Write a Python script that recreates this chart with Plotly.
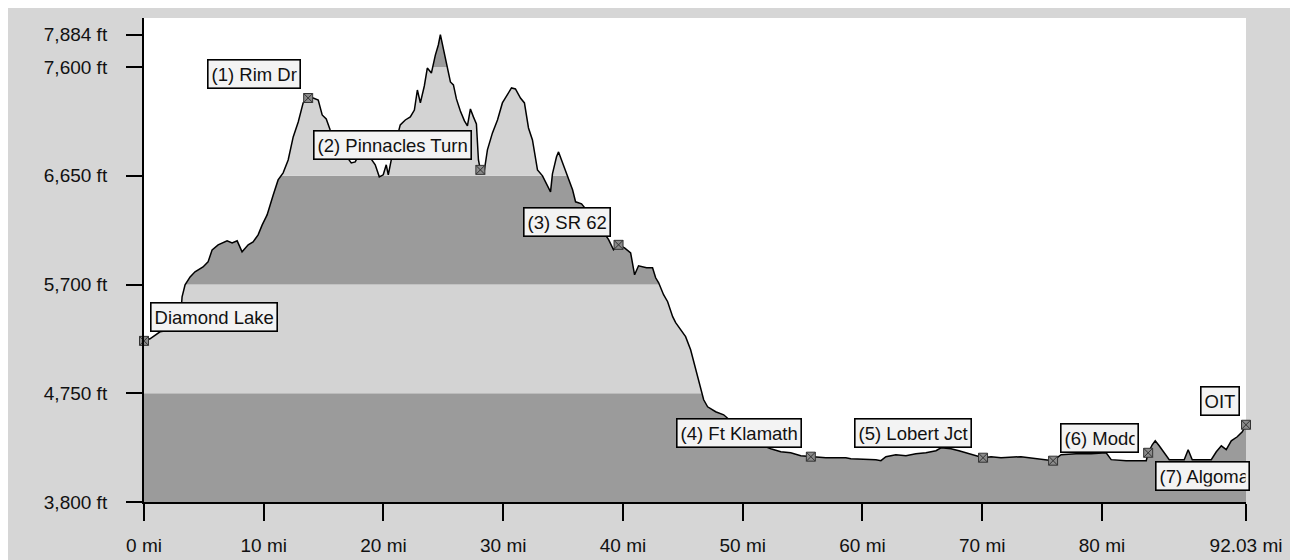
import plotly.graph_objects as go

# ---- data: elevation profile (miles, feet) ----
miles = [0, 0.5, 1.34, 2.34, 3.0, 3.18, 3.43, 3.85, 4.26, 4.93,
         5.35, 5.69, 6.19, 6.61, 6.94, 7.36, 7.78, 8.19, 8.70, 9.11,
         9.53, 9.87, 10.28, 10.79, 11.2, 11.62, 12.04, 12.46, 12.88, 13.29,
         13.71, 14.13, 14.55, 14.88, 15.22, 15.55, 16.05, 16.81, 17.31, 17.64,
         18.06, 18.73, 19.31, 19.65, 19.98, 20.23, 20.4, 20.65, 21.07, 21.4,
         21.82, 22.24, 22.58, 22.83, 23.08, 23.41, 23.66, 24.0, 24.33, 24.58,
         24.75, 25.0, 25.25, 25.59, 25.84, 26.09, 26.42, 26.76, 27.01, 27.26,
         27.51, 27.76, 27.93, 28.09, 28.43, 28.68, 29.1, 29.52, 29.93, 30.35,
         30.69, 31.02, 31.44, 31.77, 32.11, 32.44, 32.86, 33.28, 33.53, 33.95,
         34.11, 34.45, 34.62, 34.95, 35.45, 35.79, 36.04, 36.54, 37.29, 38.13,
         38.8, 39.21, 39.63, 40.13, 40.64, 40.97, 41.3, 41.97, 42.47, 42.73,
         42.98, 43.39, 43.73, 44.15, 44.4, 44.82, 45.23, 45.65, 45.99, 46.32,
         46.57, 46.74, 47.07, 47.74, 48.41, 49.83, 51.5, 52.34, 53.18, 54.01,
         54.85, 55.69, 56.94, 58.61, 59.03, 61.12, 61.54, 61.96, 62.79, 63.63,
         64.46, 65.3, 66.14, 66.56, 67.39, 68.06, 68.65, 69.48, 70.07, 70.74,
         71.57, 73.24, 74.92, 75.92, 76.59, 77.84, 79.1, 80.35, 80.77, 82.02,
         83.7, 83.86, 84.2, 84.45, 84.78, 85.12, 85.62, 86.87, 87.2, 87.54,
         89.13, 89.55, 89.97, 90.38, 90.8, 91.3, 91.72, 92.03]

elevation_ft = [5208, 5226, 5287, 5305, 5340, 5593, 5697, 5767, 5811, 5854,
                5898, 6003, 6047, 6064, 6082, 6064, 6082, 5986, 6047, 6073,
                6134, 6221, 6309, 6483, 6614, 6676, 6789, 6990, 7121, 7287,
                7330, 7330, 7313, 7182, 7147, 7051, 6920, 6833, 6763, 6772,
                6859, 6833, 6746, 6641, 6659, 6746, 6659, 6789, 6964, 7095,
                7138, 7165, 7225, 7400, 7287, 7435, 7592, 7548, 7705, 7793,
                7884, 7758, 7627, 7470, 7444, 7322, 7217, 7130, 7086, 7234,
                7165, 7104, 6789, 6702, 6702, 6877, 7025, 7138, 7287, 7357,
                7418, 7409, 7330, 7287, 7068, 6964, 6702, 6650, 6597, 6510,
                6667, 6816, 6859, 6763, 6615, 6528, 6423, 6405, 6309, 6196,
                6092, 6004, 6047, 6021, 5977, 5785, 5864, 5846, 5846, 5759,
                5715, 5611, 5550, 5419, 5367, 5306, 5245, 5130, 4999, 4869,
                4755, 4693, 4632, 4589, 4562, 4431, 4301, 4266, 4239, 4230,
                4204, 4196, 4187, 4187, 4178, 4169, 4161, 4196, 4213, 4204,
                4222, 4230, 4248, 4274, 4265, 4248, 4230, 4204, 4187, 4196,
                4187, 4196, 4178, 4161, 4213, 4222, 4222, 4230, 4170, 4161,
                4161, 4230, 4300, 4335, 4291, 4239, 4169, 4169, 4257, 4169,
                4169, 4239, 4291, 4257, 4335, 4370, 4414, 4475]

# ---- waypoints ----
wp_names = ["Diamond Lake", "(1) Rim Dr", "(2) Pinnacles Turn", "(3) SR 62",
            "(4) Ft Klamath", "(5) Lobert Jct", "(6) Modoc", "(7) Algoma", "OIT"]
wp_miles = [0, 13.71, 28.09, 39.63, 55.69, 70.07, 75.92, 83.86, 92.03]
wp_elev = [5208, 7330, 6702, 6047, 4196, 4187, 4161, 4230, 4475]

# ---- axis ticks ----
x_ticks = [0, 10, 20, 30, 40, 50, 60, 70, 80, 92.03]
x_tick_text = ["0 mi", "10 mi", "20 mi", "30 mi", "40 mi", "50 mi", "60 mi",
               "70 mi", "80 mi", "92.03 mi"]
y_ticks = [3800, 4750, 5700, 6650, 7600, 7884]
y_tick_text = ["3,800 ft", "4,750 ft", "5,700 ft", "6,650 ft", "7,600 ft", "7,884 ft"]

# band boundaries (elevation bands shaded alternately)
band_edges = [3800, 4750, 5700, 6650, 7600]

Y_MIN, Y_MAX = 3800, 8029
X_MIN, X_MAX = 0, 92.03
DARK = "#9b9b9b"
LIGHT = "#d3d3d3"
FONT = "Liberation Sans, Arial, sans-serif"
TXT = "#111111"

fig = go.Figure()

# bands as shapes below traces
for i, lo in enumerate(band_edges):
    hi = band_edges[i + 1] if i + 1 < len(band_edges) else Y_MAX
    fig.add_shape(type="rect", xref="x", yref="y", x0=X_MIN, x1=X_MAX, y0=lo, y1=hi,
                  fillcolor=DARK if i % 2 == 0 else LIGHT, line_width=0, layer="below")

# white cover above the profile
fig.add_trace(go.Scatter(
    x=miles + [X_MAX, X_MIN], y=elevation_ft + [Y_MAX, Y_MAX],
    fill="toself", fillcolor="white", mode="lines", line=dict(width=0),
    hoverinfo="skip", showlegend=False))

# profile line
fig.add_trace(go.Scatter(x=miles, y=elevation_ft, mode="lines",
                         line=dict(color="black", width=1.5), showlegend=False))

# waypoint markers
fig.add_trace(go.Scatter(x=wp_miles, y=wp_elev, mode="markers",
                         marker=dict(symbol="square-x", size=9, color="#8a8a8a",
                                     line=dict(color="#333333", width=1)),
                         showlegend=False, cliponaxis=False))

# label placement: (xanchor, yanchor, xshift, yshift, width)
placement = {
    "Diamond Lake": ("left", "bottom", 6, 9, None),
    "(1) Rim Dr": ("right", "bottom", -7, 9, None),
    "(2) Pinnacles Turn": ("right", "bottom", -8, 10, None),
    "(3) SR 62": ("right", "bottom", -8, 8, None),
    "(4) Ft Klamath": ("right", "bottom", -9, 9, None),
    "(5) Lobert Jct": ("right", "bottom", -11, 10, None),
    "(6) Modoc": ("left", "bottom", 7, 8, 70),
    "(7) Algoma": ("left", "top", 7, -8, 86),
    "OIT": ("right", "bottom", -6, 9, None),
}
for name, mx, my in zip(wp_names, wp_miles, wp_elev):
    xa, ya, xs, ys, w = placement[name]
    ann = dict(x=mx, y=my, xref="x", yref="y", text=name, showarrow=False,
               xanchor=xa, yanchor=ya, xshift=xs, yshift=ys,
               font=dict(family=FONT, size=18.5, color=TXT),
               bgcolor="#f3f3f3", bordercolor="black", borderwidth=1.6, borderpad=3)
    if w:
        ann["width"] = w
        ann["align"] = "left"
    fig.add_annotation(**ann)

fig.update_layout(
    width=1282, height=552,
    margin=dict(l=136, r=44, t=10, b=58),
    paper_bgcolor="#d6d6d6", plot_bgcolor="white",
    showlegend=False,
    font=dict(family=FONT, size=19, color=TXT),
    xaxis=dict(range=[X_MIN, X_MAX], tickvals=x_ticks, ticktext=x_tick_text,
               showgrid=False, zeroline=False, showline=True, linecolor="black",
               linewidth=2, ticks="outside", ticklen=17, tickwidth=1.5,
               tickcolor="black", ticklabelstandoff=8, automargin=False,
               tickfont=dict(family=FONT, size=19, color=TXT)),
    yaxis=dict(range=[Y_MIN, Y_MAX], tickvals=y_ticks, ticktext=y_tick_text,
               showgrid=False, zeroline=False, showline=True, linecolor="black",
               linewidth=2, ticks="outside", ticklen=16, tickwidth=1.5,
               tickcolor="black", ticklabelstandoff=15, automargin=False,
               tickfont=dict(family=FONT, size=19, color=TXT)),
)

fig.write_html(
    "out.html",
    post_script="document.body.style.margin='8px 0 0 8px';"
                "document.documentElement.style.overflow='hidden';"
                "document.body.style.overflow='hidden';",
)
